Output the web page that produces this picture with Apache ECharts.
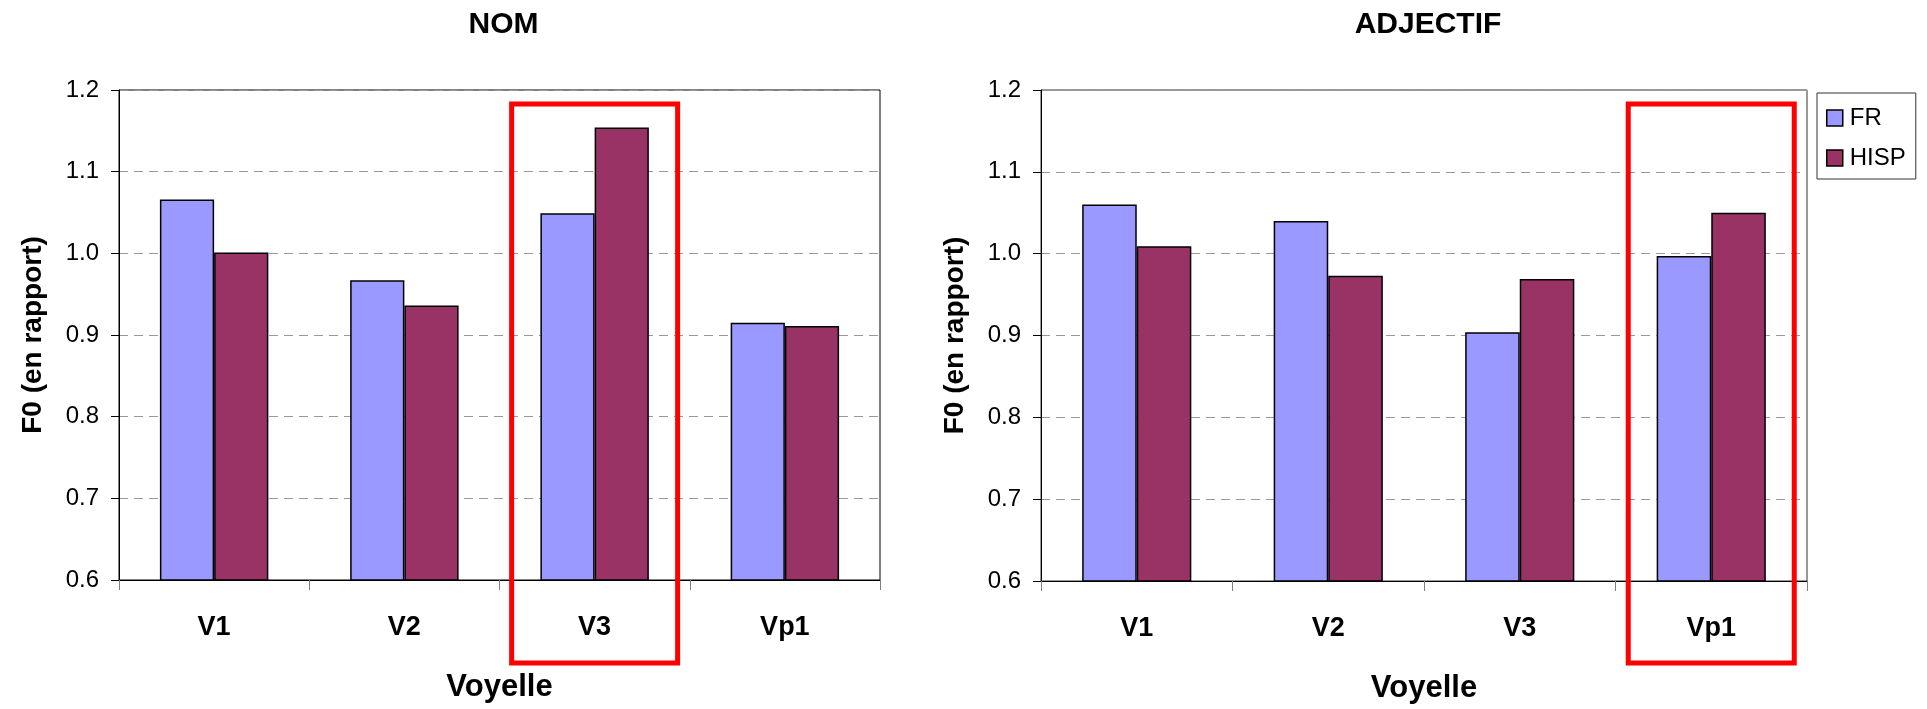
<!DOCTYPE html>
<html>
<head>
<meta charset="utf-8">
<title>F0 par voyelle – NOM / ADJECTIF</title>
<script src="https://cdn.jsdelivr.net/npm/echarts@6/dist/echarts.min.js"></script>
<style>
  html, body { margin: 0; padding: 0; background: #fff; }
  #chart { width: 1927px; height: 709px; }
</style>
</head>
<body>
<div id="chart"></div>
<script>
// Voyelles (catégories de l'axe X)
const categories = ['V1', 'V2', 'V3', 'Vp1'];

// F0 relative — NOM
const nomFR   = [1.066, 0.967, 1.049, 0.915];
const nomHISP = [1.001, 0.936, 1.154, 0.911];

// F0 relative — ADJECTIF
const adjFR   = [1.060, 1.040, 0.904, 0.997];
const adjHISP = [1.009, 0.973, 0.969, 1.050];

// Échelle de l'axe Y
const yMin = 0.6, yMax = 1.2, yStep = 0.1;

const seriesNames = ['FR', 'HISP'];
const colors = ['#9999FF', '#993366'];
const FONT = '"Liberation Sans", Arial, sans-serif';

const chart = echarts.init(document.getElementById('chart'), null, { renderer: 'canvas' });

function yAxisCfg(gridIndex) {
  return {
    type: 'value', gridIndex,
    min: yMin, max: yMax, interval: yStep,
    name: 'F0 (en rapport)',
    nameLocation: 'middle', nameRotate: 90, nameGap: 72,
    nameTextStyle: { fontFamily: FONT, fontSize: 28, fontWeight: 'bold', color: '#000' },
    axisLine: { show: true, lineStyle: { color: '#000', width: 1 } },
    axisTick: { show: true, length: 8, lineStyle: { color: '#000' } },
    axisLabel: { margin: 20, fontFamily: FONT, fontSize: 24, color: '#000',
                 formatter: v => v.toFixed(1) },
    splitLine: { show: true, lineStyle: { color: '#999', type: [9, 6], width: 1 } }
  };
}

function xAxisCfg(gridIndex) {
  return {
    type: 'category', gridIndex, data: categories,
    boundaryGap: true,
    name: 'Voyelle', nameLocation: 'middle', nameGap: 92,
    nameTextStyle: { fontFamily: FONT, fontSize: 31, fontWeight: 'bold', color: '#000' },
    axisLine: { show: true, lineStyle: { color: '#000', width: 1 } },
    axisTick: { show: true, length: 10, alignWithLabel: false, lineStyle: { color: '#808080' } },
    axisLabel: { margin: 34, fontFamily: FONT, fontSize: 27, fontWeight: 'bold', color: '#000' },
    splitLine: { show: false }
  };
}

function barSeries(name, data, idx, color) {
  return {
    name, type: 'bar', data,
    xAxisIndex: idx, yAxisIndex: idx,
    barGap: '0%', barCategoryGap: '43%',
    itemStyle: { color, borderColor: '#000', borderWidth: 1.5 },
    emphasis: { disabled: true },
    animation: false
  };
}

const option = {
  animation: false,
  backgroundColor: '#fff',
  textStyle: { fontFamily: FONT },
  grid: [
    { left: 119, top: 90, width: 761, height: 490,
      show: true, borderColor: '#000', borderWidth: 1, backgroundColor: 'transparent' },
    { left: 1041, top: 90, width: 766, height: 494,
      show: true, borderColor: '#333', borderWidth: 1, backgroundColor: 'transparent' }
  ],
  xAxis: [xAxisCfg(0), xAxisCfg(1)],
  yAxis: [yAxisCfg(0), yAxisCfg(1)],
  legend: {
    data: seriesNames,
    orient: 'vertical',
    left: 1817, top: 93,
    padding: [13, 10, 9, 9],
    itemGap: 16,
    itemWidth: 16, itemHeight: 16,
    icon: 'rect',
    borderColor: '#333', borderWidth: 1,
    itemStyle: { borderColor: '#000', borderWidth: 1.5 },
    textStyle: { fontFamily: FONT, fontSize: 24, color: '#000', padding: [0, 0, 0, 2] },
    selectedMode: false
  },
  series: [
    barSeries(seriesNames[0], nomFR, 0, colors[0]),
    barSeries(seriesNames[1], nomHISP, 0, colors[1]),
    barSeries(seriesNames[0], adjFR, 1, colors[0]),
    barSeries(seriesNames[1], adjHISP, 1, colors[1])
  ]
};

chart.setOption(option);

// Titles and highlight frames around one vowel in each panel
function decorate() {
  const frames = [
    { grid: 0, cat: 'V3' },
    { grid: 1, cat: 'Vp1' }
  ];
  const elements = [];
  const titles = [['NOM', 0], ['ADJECTIF', 1]];
  titles.forEach(([txt, g]) => {
    const gm = chart.getModel().getComponent('grid', g).coordinateSystem.getRect();
    elements.push({
      type: 'text',
      style: { text: txt, x: gm.x + gm.width / 2 + 4, y: 25,
               align: 'center', verticalAlign: 'middle',
               font: 'bold 30px ' + FONT, fill: '#000' },
      silent: true
    });
  });
  frames.forEach(f => {
    const cx = chart.convertToPixel({ xAxisIndex: f.grid, yAxisIndex: f.grid }, [f.cat, yMax])[0];
    const gm = chart.getModel().getComponent('grid', f.grid).coordinateSystem.getRect();
    const top = gm.y + 14;
    const bottom = 663;
    elements.push({
      type: 'rect',
      shape: { x: cx - 83, y: top, width: 166, height: bottom - top },
      style: { fill: 'none', stroke: '#FF0000', lineWidth: 5 },
      z: 100, silent: true
    });
  });
  chart.setOption({ graphic: elements });
}
decorate();
</script>
</body>
</html>
